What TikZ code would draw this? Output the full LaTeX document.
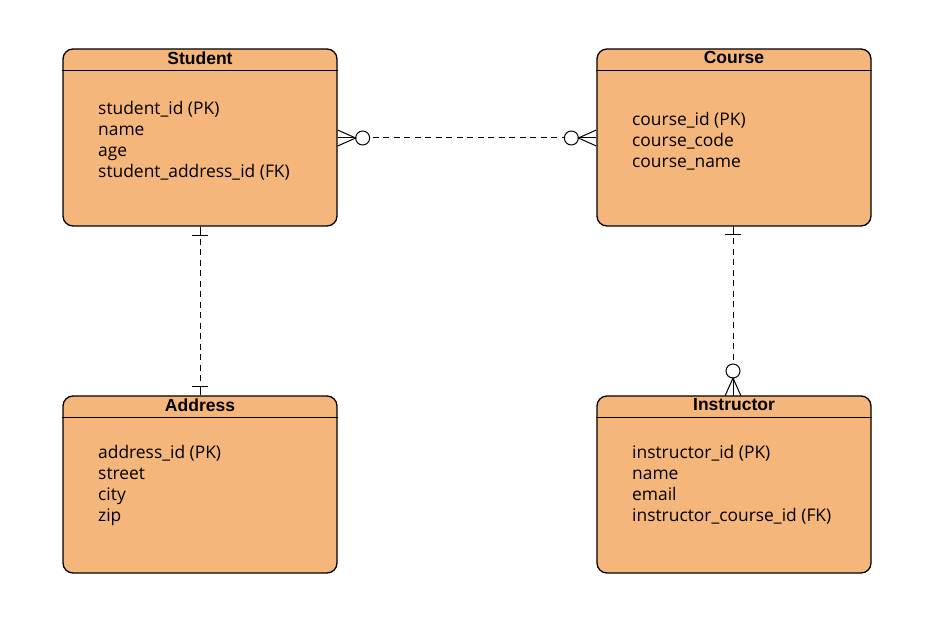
\documentclass[tikz,border=0pt]{standalone}
\usepackage{fontspec}
\setmainfont{Open Sans}
\newfontfamily\hdrfont{Liberation Sans}
\usetikzlibrary{calc}
\definecolor{entfill}{RGB}{244,182,122}
\tikzset{
  entity/.style={draw=black, line width=1.3pt, fill=entfill, rounded corners=10pt,
    minimum width=274pt, minimum height=177pt, inner sep=0pt},
  enttitle/.style={font=\hdrfont\bfseries\fontsize{17.5}{19}\selectfont, inner sep=0pt, anchor=center},
  attr/.style={font=\fontsize{17.4}{21}\selectfont, inner sep=0pt, anchor=base west},
  conn/.style={line width=1pt, black},
  dashconn/.style={line width=1pt, black, dash pattern=on 6pt off 4.5pt, dash phase=-3pt},
}
\begin{document}
\begin{tikzpicture}[x=1pt,y=-1pt]
\useasboundingbox (0,0) rectangle (937,631);

% Entities
\node[entity] (student) at (200,137.5) {};
\node[entity] (course) at (734,137.5) {};
\node[entity] (address) at (200,484.5) {};
\node[entity] (instructor) at (734,484.5) {};

% Header lines
\foreach \e in {student,course,address,instructor}{
  \draw[line width=1.3pt] ($(\e.north west)+(0,22)$) -- ($(\e.north east)+(0,22)$);
}

% Titles
\node[enttitle] (studentT) at ($(student.north)+(0,9.5)$) {Student};
\node[enttitle] (courseT) at ($(course.north)+(0,9.5)$) {Course};
\node[enttitle] (addressT) at ($(address.north)+(0,9.5)$) {Address};
\node[enttitle] (instructorT) at ($(instructor.north)+(0,9.5)$) {Instructor};

% Attributes
\node[attr] (s1) at (98,114.5) {student\_id (PK)};
\node[attr] (s2) at (98,135.5) {name};
\node[attr] (s3) at (98,156.5) {age};
\node[attr] (s4) at (98,177.5) {student\_address\_id (FK)};

\node[attr] (c1) at (632,125.5) {course\_id (PK)};
\node[attr] (c2) at (632,146.5) {course\_code};
\node[attr] (c3) at (632,167.5) {course\_name};

\node[attr] (a1) at (98,458.5) {address\_id (PK)};
\node[attr] (a2) at (98,479.5) {street};
\node[attr] (a3) at (98,500.5) {city};
\node[attr] (a4) at (98,521.5) {zip};

\node[attr] (i1) at (632,458.5) {instructor\_id (PK)};
\node[attr] (i2) at (632,479.5) {name};
\node[attr] (i3) at (632,500.5) {email};
\node[attr] (i4) at (632,521.5) {instructor\_course\_id (FK)};

% Student -- Course (many to many, zero or many)
\coordinate (sE) at (student.east |- 0,138);
\coordinate (cW) at (course.west |- 0,138);
\coordinate (scA) at ($(sE)+(18,0)$);
\coordinate (scB) at ($(cW)+(-18,0)$);
\draw[conn] ($(sE)+(0,-8)$) -- (scA) -- ($(sE)+(0,8)$);
\draw[conn] (sE) -- (scA);
\draw[conn] ($(scA)+(7,0)$) circle[radius=7pt];
\draw[conn] ($(cW)+(0,-8)$) -- (scB) -- ($(cW)+(0,8)$);
\draw[conn] (cW) -- (scB);
\draw[conn] ($(scB)+(-7,0)$) circle[radius=7pt];
\draw[dashconn] ($(scA)+(14,0)$) -- ($(scB)+(-14,0)$);

% Student -- Address (one to one)
\coordinate (sS) at (student.south -| 200,0);
\coordinate (aN) at (address.north -| 200,0);
\draw[conn] (sS) -- ($(sS)+(0,9)$);
\draw[conn] ($(sS)+(-8,9)$) -- ($(sS)+(8,9)$);
\draw[dashconn] ($(sS)+(0,9)$) -- ($(aN)+(0,-9)$);
\draw[conn] ($(aN)+(0,-9)$) -- (aN);
\draw[conn] ($(aN)+(-8,-9)$) -- ($(aN)+(8,-9)$);

% Course -- Instructor (one to zero-or-many)
\coordinate (cS) at (733,226);
\coordinate (iN) at (733,396);
\draw[conn] (cS) -- ($(cS)+(0,9)$);
\draw[conn] ($(cS)+(-8,9)$) -- ($(cS)+(8,9)$);
\coordinate (ciB) at ($(iN)+(0,-18)$);
\draw[dashconn] ($(cS)+(0,9)$) -- ($(ciB)+(0,-14)$);
\draw[conn] ($(ciB)+(0,-7)$) circle[radius=7pt];
\draw[conn] ($(iN)+(-8,0)$) -- (ciB) -- ($(iN)+(8,0)$);
\draw[conn] (ciB) -- (iN);

\end{tikzpicture}
\end{document}
